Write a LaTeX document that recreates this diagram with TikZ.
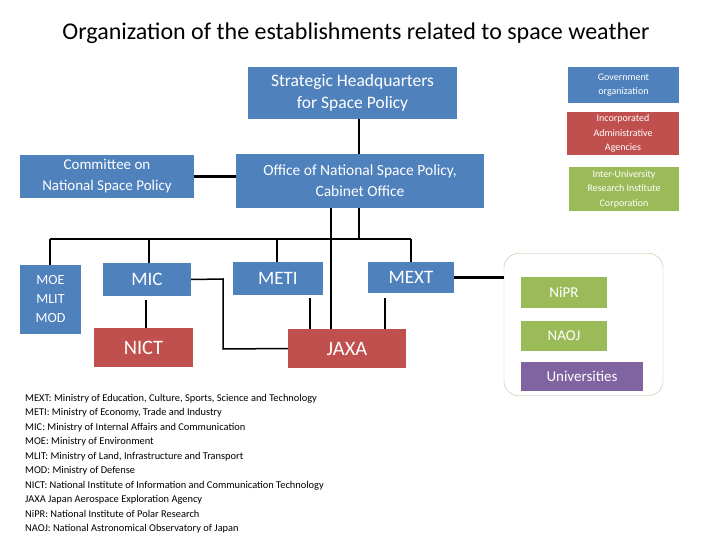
\documentclass[tikz,border=0pt]{standalone}
\usepackage{fontspec}
\setmainfont{Carlito}
\definecolor{cblue}{HTML}{4F81BD}
\definecolor{cred}{HTML}{C0504D}
\definecolor{cgreen}{HTML}{9BBB59}
\definecolor{cpurp}{HTML}{8064A2}
\definecolor{cbord}{HTML}{C4BD97}
\begin{document}
\begin{tikzpicture}[x=1pt,y=-1pt,
  bx/.style={fill=cblue,text=white,align=center,inner sep=0pt},
  rx/.style={bx,fill=cred},
  gx/.style={bx,fill=cgreen},
  ln/.style={line width=2.2pt}]
\useasboundingbox (0,0) rectangle (720,540);
\fill[white] (0,0) rectangle (720,540);
\node (title) at (356,33) {\fontsize{24}{26}\selectfont Organization of the establishments related to space weather};
\node[bx,minimum width=209,minimum height=52,font=\fontsize{17.5}{22}\selectfont] (hq) at (352.5,93) {Strategic Headquarters\\for Space Policy};
\node[bx,minimum width=174,minimum height=43,font=\fontsize{15}{21}\selectfont] (com) at (107,176.5) {Committee on\\National Space Policy};
\node[bx,minimum width=248,minimum height=54,font=\fontsize{15.5}{21}\selectfont] (off) at (360,181) {Office of National Space Policy,\\Cabinet Office};
\node[bx,minimum width=111,minimum height=36,font=\fontsize{10}{14.5}\selectfont] (gov) at (623.5,85) {Government\\organization};
\node[rx,minimum width=112,minimum height=43,font=\fontsize{10}{14.5}\selectfont] (inc) at (623,133.5) {Incorporated\\Administrative\\Agencies};
\node[gx,minimum width=110,minimum height=44,font=\fontsize{10}{14.5}\selectfont] (iur) at (624,189) {Inter-University\\Research Institute\\Corporation};
\node[bx,minimum width=61,minimum height=69,font=\fontsize{14}{19}\selectfont] (moe) at (50.5,299.5) {MOE\\MLIT\\MOD};
\node[bx,minimum width=88,minimum height=33,font=\fontsize{19}{20}\selectfont] (mic) at (147,279.5) {MIC};
\node[bx,minimum width=90,minimum height=33,font=\fontsize{19}{20}\selectfont] (meti) at (278,278.5) {METI};
\node[bx,minimum width=86,minimum height=31,font=\fontsize{19}{20}\selectfont] (mext) at (411,277.5) {MEXT};
\node[rx,minimum width=99,minimum height=39,font=\fontsize{20.5}{22}\selectfont] (nict) at (143.5,347.5) {NICT};
\node[rx,minimum width=118,minimum height=39,font=\fontsize{20.5}{22}\selectfont] (jaxa) at (347,348.5) {JAXA};
\node[draw=cbord,rounded corners=14pt,minimum width=159,minimum height=142,inner sep=0pt] (cont) at (583.5,324.5) {};
\node[gx,minimum width=86,minimum height=31,font=\fontsize{15}{18}\selectfont] (nipr) at (564,292.5) {NiPR};
\node[gx,minimum width=86,minimum height=30,font=\fontsize{15}{18}\selectfont] (naoj) at (564,336) {NAOJ};
\node[bx,fill=cpurp,minimum width=122,minimum height=29,font=\fontsize{15}{18}\selectfont] (univ) at (582,376.5) {Universities};
\node[anchor=north west,align=left,inner sep=0pt,font=\fontsize{10.4}{14.5}\selectfont] (leg) at (25,394) {MEXT: Ministry of Education, Culture, Sports, Science and Technology\\
METI: Ministry of Economy, Trade and Industry\\
MIC: Ministry of Internal Affairs and Communication\\
MOE: Ministry of Environment\\
MLIT: Ministry of Land, Infrastructure and Transport\\
MOD: Ministry of Defense\\
NICT: National Institute of Information and Communication Technology\\
JAXA Japan Aerospace Exploration Agency\\
NiPR: National Institute of Polar Research\\
NAOJ: National Astronomical Observatory of Japan};
% connectors
\draw[ln] (hq.south -| 359,0) -- (off.north -| 359,0);
\draw[ln] (com.east) -- (off.west |- com.east);
\coordinate (bus) at (359,239);
\draw[ln] (off.south -| bus) -- (bus);
\draw[ln] (50,239) -- (411,239);
\draw[ln] (50,239) -- (moe.north -| 50,0);
\draw[ln] (149,239) -- (mic.north -| 149,0);
\draw[ln] (277,239) -- (meti.north -| 277,0);
\draw[ln] (411,239) -- (mext.north);
\draw[ln] (off.south -| 331,0) -- (jaxa.north -| 331,0);
\draw[ln] (meti.south -| 310,0) ++(0,3) -- (jaxa.north -| 310,0);
\draw[ln] (mext.south -| 385,0) ++(0,5) -- (jaxa.north -| 385,0);
\draw[ln] (mic.south -| 146,0) ++(0,4) -- (nict.north -| 146,0);
\draw[line width=1.5pt] (mic.east) -- (223,279) -- (223,349) -- (jaxa.west);
\draw[ln] (mext.east) -- (cont.west |- mext.east);
\end{tikzpicture}
\end{document}
